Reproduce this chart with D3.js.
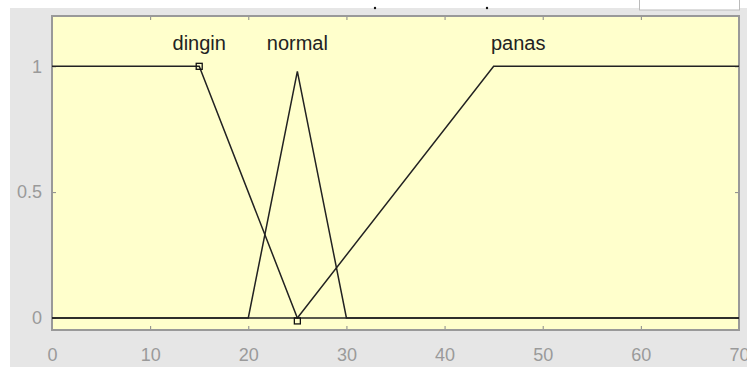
<!DOCTYPE html>
<html>
<head>
<meta charset="utf-8">
<script src="https://cdn.jsdelivr.net/npm/d3@7"></script>
<style>
  body { margin: 0; background: #fff; }
  svg { display: block; font-family: "Liberation Sans", Arial, sans-serif; }
</style>
</head>
<body>
<div id="chart"></div>
<script>
var svgWidth = 747;
var svgHeight = 367;

// membership functions, input range 0..70
var mfNames = ["dingin", "normal", "panas"];
var dinginX = [0, 15, 25, 70];
var dinginY = [1, 1, 0, 0];
var normalX = [0, 20, 25, 30, 70];
var normalY = [0, 0, 0.98, 0, 0];
var panasX = [0, 25, 45, 70];
var panasY = [0, 0, 1, 1];
var labelX = [15, 25, 47.5];
var xTicks = [0, 10, 20, 30, 40, 50, 60, 70];
var yTicks = [0, 0.5, 1];

var margin = { top: 16, right: 8, bottom: 37, left: 52 };
var width = 739 - margin.left;
var height = 330 - margin.top;

var svg = d3.select("#chart").append("svg")
  .attr("width", svgWidth)
  .attr("height", svgHeight);

// grey figure background
svg.append("rect")
  .attr("x", 10).attr("y", 8)
  .attr("width", svgWidth - 10).attr("height", svgHeight - 8)
  .attr("fill", "#e6e6e6");

// bits of the window above the axes
svg.append("rect")
  .attr("x", 639.5).attr("y", -2)
  .attr("width", 100).attr("height", 12)
  .attr("fill", "#fff").attr("stroke", "#bbb");
svg.append("circle").attr("cx", 375).attr("cy", 8).attr("r", 1.2).attr("fill", "#111");
svg.append("circle").attr("cx", 487).attr("cy", 8).attr("r", 1.2).attr("fill", "#111");

var x = d3.scaleLinear().domain([0, 70]).range([0, width]);
var y = d3.scaleLinear().domain([-0.048, 1.2]).range([height, 0]);

var g = svg.append("g")
  .attr("transform", `translate(${margin.left}, ${margin.top})`);

g.append("rect")
  .attr("width", width).attr("height", height)
  .attr("fill", "#ffffcc");

// axes with inward ticks
var bottomAxis = d3.axisBottom(x).tickValues(xTicks).tickSize(-4).tickPadding(18).tickFormat(d3.format("d"));
var topAxis = d3.axisTop(x).tickValues(xTicks).tickSize(-4).tickFormat("");
var leftAxis = d3.axisLeft(y).tickValues(yTicks).tickSize(-4).tickPadding(10).tickFormat(d3.format("~g"));
var rightAxis = d3.axisRight(y).tickValues(yTicks).tickSize(-4).tickFormat("");

function styleAxis(sel) {
  sel.select(".domain").remove();
  sel.selectAll("line").attr("stroke", "#888");
  sel.selectAll("text").attr("fill", "#9a9a9a").attr("font-size", "18px");
}

g.append("g").attr("transform", `translate(0, ${height})`).call(bottomAxis).call(styleAxis);
g.append("g").call(topAxis).call(styleAxis);
g.append("g").call(leftAxis).call(styleAxis);
g.append("g").attr("transform", `translate(${width}, 0)`).call(rightAxis).call(styleAxis);

// axes box
g.append("rect")
  .attr("width", width).attr("height", height)
  .attr("fill", "none").attr("stroke", "#999").attr("stroke-width", 2);

var line = d3.line().x(d => x(d[0])).y(d => y(d[1]));

var series = [
  d3.zip(dinginX, dinginY),
  d3.zip(normalX, normalY),
  d3.zip(panasX, panasY)
];

g.selectAll(".mf")
  .data(series)
  .enter()
  .append("path")
  .attr("class", "mf")
  .attr("d", line)
  .attr("fill", "none")
  .attr("stroke", "#222")
  .attr("stroke-width", 1.5);

// markers of the selected function (dingin)
g.selectAll(".mark")
  .data([[15, 1], [25, 0]])
  .enter()
  .append("rect")
  .attr("class", "mark")
  .attr("x", d => x(d[0]) - 3)
  .attr("y", d => y(d[1]) - (d[1] === 0 ? 0 : 3))
  .attr("width", 6).attr("height", 6)
  .attr("fill", "none").attr("stroke", "#111").attr("stroke-width", 1.3);

g.selectAll(".mflabel")
  .data(mfNames)
  .enter()
  .append("text")
  .attr("class", "mflabel")
  .attr("x", (d, i) => x(labelX[i]))
  .attr("y", 34)
  .attr("text-anchor", "middle")
  .attr("font-size", "20px")
  .attr("fill", "#222")
  .text(d => d);
</script>
</body>
</html>
